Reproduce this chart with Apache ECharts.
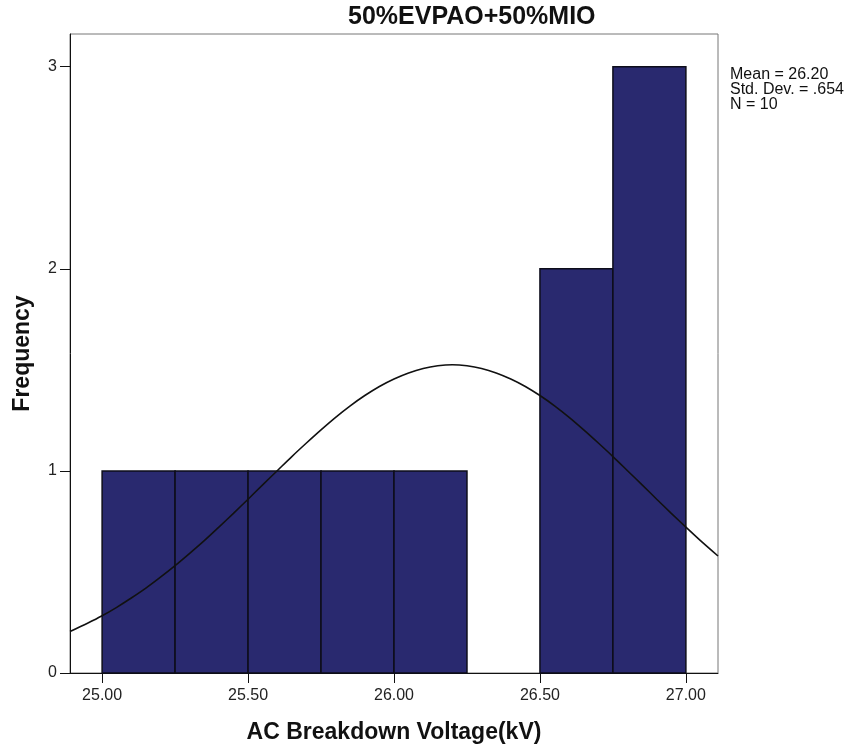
<!DOCTYPE html>
<html>
<head>
<meta charset="utf-8">
<script src="https://cdn.jsdelivr.net/npm/echarts@6/dist/echarts.min.js"></script>
<style>
  html, body { margin: 0; padding: 0; background: #fff; }
  #graph { width: 852px; height: 748px; }
</style>
</head>
<body>
<div id="graph"></div>
<script>
// histogram bins (kV) and counts
const binStarts = [25.00, 25.25, 25.50, 25.75, 26.00, 26.25, 26.50, 26.75];
const binEnds = [25.25, 25.50, 25.75, 26.00, 26.25, 26.50, 26.75, 27.00];
const counts = [1, 1, 1, 1, 1, 0, 2, 3];

// normal curve
const curveX = [24.89, 24.95, 25.00, 25.05, 25.10, 25.15, 25.20, 25.25, 25.30, 25.35, 25.40,
  25.45, 25.50, 25.55, 25.60, 25.65, 25.70, 25.75, 25.80, 25.85, 25.90, 25.95, 26.00,
  26.05, 26.10, 26.15, 26.20, 26.25, 26.30, 26.35, 26.40, 26.45, 26.50, 26.55, 26.60,
  26.65, 26.70, 26.75, 26.80, 26.85, 26.90, 26.95, 27.00, 27.05, 27.11];
const curveY = [0.205, 0.246, 0.283, 0.325, 0.371, 0.420, 0.474, 0.531, 0.592, 0.655, 0.722,
  0.790, 0.860, 0.931, 1.001, 1.071, 1.138, 1.203, 1.265, 1.322, 1.373, 1.418, 1.455,
  1.485, 1.507, 1.520, 1.525, 1.520, 1.507, 1.485, 1.455, 1.418, 1.373, 1.322, 1.265,
  1.203, 1.138, 1.071, 1.001, 0.931, 0.860, 0.790, 0.722, 0.655, 0.579];

const xTicks = [25.0, 25.5, 26.0, 26.5, 27.0];
const yTicks = [0, 1, 2, 3];
const statsLines = ['Mean = 26.20', 'Std. Dev. = .654', 'N = 10'];

function createOptions() {
  const binData = binStarts.map((s, i) => [s, binEnds[i], counts[i]]).filter(d => d[2] > 0);
  const curveData = curveX.map((x, i) => [x, curveY[i]]);
  const font = 'Arial, "Liberation Sans", sans-serif';
  return {
    animation: false,
    title: {
      text: '50%EVPAO+50%MIO',
      left: 343,
      top: 0,
      textStyle: { fontFamily: font, fontSize: 25, fontWeight: 'bold', color: '#111' }
    },
    graphic: statsLines.map((t, i) => ({
      type: 'text',
      left: 730,
      top: 67 + i * 15,
      style: { text: t, font: '16px ' + font, fill: '#111' }
    })),
    grid: {
      left: 70,
      top: 34,
      width: 648,
      height: 639,
      outerBoundsMode: 'none',
      show: true,
      borderColor: '#777',
      borderWidth: 1,
      backgroundColor: '#fff'
    },
    xAxis: {
      type: 'value',
      min: 24.89,
      max: 27.11,
      name: 'AC Breakdown Voltage(kV)',
      nameLocation: 'middle',
      nameGap: 48,
      nameTextStyle: { fontFamily: font, fontSize: 23, fontWeight: 'bold', color: '#111' },
      splitLine: { show: false },
      axisLine: { onZero: false, lineStyle: { color: '#111', width: 1 } },
      axisTick: { customValues: xTicks, length: 10, lineStyle: { color: '#111' } },
      axisLabel: {
        customValues: xTicks,
        margin: 15,
        fontFamily: font,
        fontSize: 16,
        color: '#222',
        formatter: v => v.toFixed(2)
      }
    },
    yAxis: {
      type: 'value',
      min: 0,
      max: 3.162,
      name: 'Frequency',
      nameLocation: 'middle',
      nameGap: 36,
      nameTextStyle: { fontFamily: font, fontSize: 23, fontWeight: 'bold', color: '#111' },
      splitLine: { show: false },
      axisLine: { show: true, lineStyle: { color: '#111', width: 1 } },
      axisTick: { show: true, customValues: yTicks, length: 10, lineStyle: { color: '#111' } },
      axisLabel: {
        customValues: yTicks,
        margin: 13,
        fontFamily: font,
        fontSize: 16,
        color: '#222'
      }
    },
    series: [
      {
        type: 'custom',
        data: binData,
        encode: { x: [0, 1], y: 2 },
        renderItem: function (params, api) {
          const p0 = api.coord([api.value(0), api.value(2)]);
          const p1 = api.coord([api.value(1), 0]);
          return {
            type: 'rect',
            shape: { x: p0[0], y: p0[1], width: p1[0] - p0[0], height: p1[1] - p0[1] },
            style: { fill: '#29296f', stroke: '#0d0d1a', lineWidth: 1.5 }
          };
        }
      },
      {
        type: 'line',
        data: curveData,
        smooth: 0.3,
        showSymbol: false,
        lineStyle: { color: '#111', width: 1.6 },
        z: 5
      }
    ]
  };
}

const myChart = echarts.init(document.getElementById('graph'));
myChart.setOption(createOptions());
</script>
</body>
</html>
